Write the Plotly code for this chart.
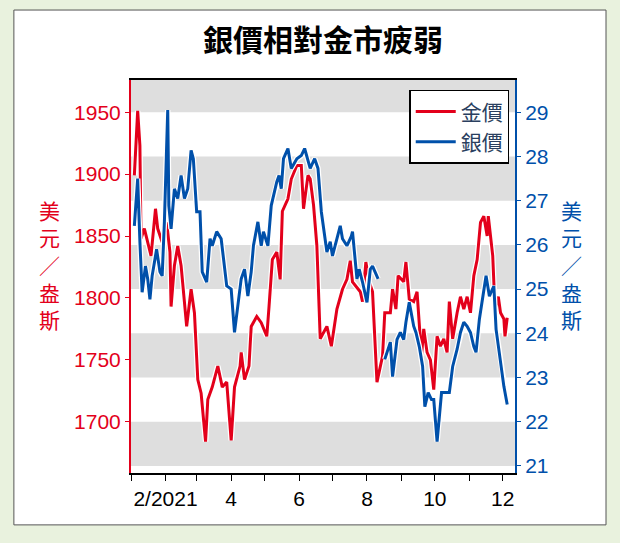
import plotly.graph_objects as go
import pandas as pd

gold_day = [3,6,8,9,12,15,18,22,24,28,32,35,36,39,42,45,50,54,57,60,63,67,69,73,78,82,86,90,93,98,99,102,106,108,113,117,122,124,127,131,134,136,141,144,149,153,155,159,161,164,167,170,
            176,180,185,190,194,197,199,206,208,211,214,217,221,226,228,233,235,238,240,245,247,250,254,257,261,263,266,269,272,275,278,281,284,286,289,293,296,299,302,305,308,311,314,317,320,321,325,327,330,332,335,336,338]
gold = [1899,1951,1923,1848,1856,1845,1834,1872,1856,1845,1861,1837,1793,1826,1842,1826,1777,1807,1788,1734,1723,1684,1718,1728,1745,1728,1732,1685,1728,1745,1756,1734,1745,1777,1785,1780,1769,1793,1831,1837,1815,1870,1880,1896,1907,1907,1872,1899,1896,1875,1842,1767,
        1777,1761,1791,1807,1815,1830,1813,1805,1797,1829,1813,1805,1732,1753,1788,1788,1807,1791,1818,1813,1829,1799,1797,1805,1753,1775,1756,1750,1726,1769,1761,1767,1756,1797,1767,1788,1801,1791,1801,1788,1818,1831,1861,1866,1850,1866,1834,1791,1801,1788,1783,1769,1784]

silver_day = [3,6,8,10,13,15,17,19,23,26,28,30,33,34,36,39,42,45,48,51,54,56,59,62,64,68,71,73,77,81,86,90,93,98,99,102,105,108,110,114,117,119,123,126,131,133,135,137,141,144,149,153,156,161,165,168,171,
              176,179,181,185,188,190,194,198,199,203,205,208,212,215,217,222,227,228,233,235,239,242,245,247,250,254,256,259,262,264,267,270,272,275,279,282,286,289,293,296,299,302,305,308,310,313,317,319,322,326,328,331,334,335,338]
silver = [26.43,27.5,26.07,24.93,25.52,25.23,24.77,25.3,25.9,25.39,25.3,26.52,29.05,26.89,26.36,27.27,27.05,27.57,27.05,27.27,28.14,27.95,26.75,26.75,25.39,25.16,26.14,25.98,26.3,26.14,25.07,25.0,24.02,25.0,25.23,25.45,24.84,25.39,25.98,26.52,25.98,26.3,25.98,26.89,27.43,27.57,27.27,27.95,28.18,27.73,27.95,28.02,28.18,27.73,27.95,27.73,26.75,
          25.84,26.07,25.75,26.14,26.43,26.14,25.98,26.2,26.3,25.23,25.45,25.16,24.7,25.45,25.52,25.23,None,23.41,23.8,23.02,23.86,24.02,23.86,24.25,24.7,24.16,24.02,23.7,23.25,22.34,22.66,22.5,22.5,21.55,22.66,22.66,22.66,23.25,23.64,24.02,24.25,24.16,24.02,23.7,23.57,24.32,24.93,25.3,24.84,25.07,24.09,23.57,22.95,22.8,22.39,22.55]

start = pd.Timestamp("2021-01-01")
gx = [start + pd.Timedelta(days=d) for d in gold_day]
sx = [start + pd.Timedelta(days=d) for d in silver_day]

tick_dates = pd.date_range("2021-01-01", "2021-12-01", freq="MS")
tick_text = ["", "2/2021", "", "4", "", "6", "", "8", "", "10", "", "12"]

RED = "#e3001b"
BLUE = "#0050aa"
fig = go.Figure()
fig.add_trace(go.Scatter(x=gx, y=gold, mode="lines", line=dict(color="white", width=5.5), showlegend=False, hoverinfo="skip"))
fig.add_trace(go.Scatter(x=sx, y=silver, yaxis="y2", mode="lines", line=dict(color="white", width=5.5), showlegend=False, hoverinfo="skip", connectgaps=False))
fig.add_trace(go.Scatter(x=gx, y=gold, mode="lines", name="金價", line=dict(color=RED, width=3)))
fig.add_trace(go.Scatter(x=sx, y=silver, yaxis="y2", mode="lines", name="銀價", line=dict(color=BLUE, width=3), connectgaps=False))

shapes = [dict(type="rect", xref="paper", yref="paper", x0=-0.305, x1=1.237, y0=-0.132, y1=1.178,
               fillcolor="white", line=dict(color="#555555", width=1), layer="below")]
for lo, hi in [(21, 22), (23, 24), (25, 26), (27, 28), (29, 29.73)]:
    shapes.append(dict(type="rect", xref="paper", yref="y2", x0=0, x1=1, y0=lo, y1=hi,
                       fillcolor="#dedede", line=dict(width=0), layer="below"))

fnt = "Liberation Sans, Arial, sans-serif"
fig.update_layout(
    width=620, height=543, margin=dict(l=131, r=105, t=80, b=70, autoexpand=False),
    paper_bgcolor="#e9f2de", plot_bgcolor="white", shapes=shapes,
    font=dict(family=fnt),
    title=dict(text="<b>銀價相對金市疲弱</b>", x=0.5, xref="paper", y=0.925, yanchor="middle",
               font=dict(family="Noto Sans CJK TC", size=30, color="black")),
    xaxis=dict(range=[pd.Timestamp("2021-01-01"), pd.Timestamp("2021-12-12")], tickvals=tick_dates, ticktext=tick_text,
               ticks="outside", ticklen=6, tickcolor="black", showline=True, linecolor="black", linewidth=1.5,
               mirror=True, showgrid=False, tickfont=dict(size=21, color="black")),
    yaxis=dict(range=[1658.6, 1976], tickvals=[1700, 1750, 1800, 1850, 1900, 1950], ticks="outside", ticklen=4,
               tickcolor=RED, showline=True, linecolor=RED, linewidth=2, showgrid=False, zeroline=False,
               tickfont=dict(size=21, color=RED)),
    yaxis2=dict(range=[20.84, 29.73], overlaying="y", side="right", tickvals=list(range(21, 30)), ticks="outside",
                ticklen=4, tickcolor=BLUE, showline=True, linecolor=BLUE, linewidth=2, showgrid=False, zeroline=False,
                tickfont=dict(size=21, color=BLUE)),
    legend=dict(x=0.985, y=0.975, xanchor="right", yanchor="top", bgcolor="white", bordercolor="black", borderwidth=1.5,
                font=dict(family="Noto Sans CJK TC", size=21), itemwidth=40),
    annotations=[
        dict(text="美<br>元<br>／<br>盎<br>斯", xref="paper", yref="paper", x=-0.245, y=0.53, showarrow=False,
             font=dict(family="Noto Sans CJK TC", size=21, color=RED)),
        dict(text="美<br>元<br>／<br>盎<br>斯", xref="paper", yref="paper", x=1.18, y=0.53, showarrow=False,
             font=dict(family="Noto Sans CJK TC", size=21, color=BLUE)),
    ],
)
fig.write_html("out.html", config={"displayModeBar": False},
               post_script="document.body.style.margin='0';document.body.style.overflow='hidden';")
